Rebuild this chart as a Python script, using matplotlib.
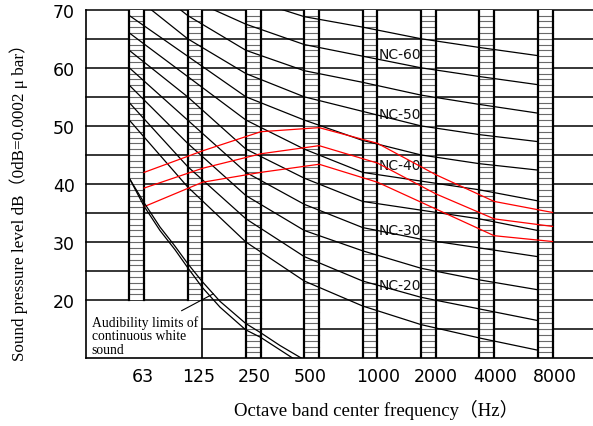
import numpy as np
import matplotlib
matplotlib.use("Agg")
import matplotlib.pyplot as plt

# octave bands
bands = ['63', '125', '250', '500', '1000', '2000', '4000', '8000']

# NC curves, values read at each band (dB)
nc_15 = [51, 39.5, 30, 23.3, 19, 15.8, 13.5, 11.4]
nc_20 = [54, 43, 34, 27.5, 23.3, 20.5, 18.5, 16.5]
nc_25 = [57, 47, 38, 32, 28.5, 25.5, 23.5, 21.8]
nc_30 = [60, 51, 42, 36.5, 32.5, 30.5, 29, 27.5]
nc_35 = [63, 55, 46, 41, 37, 35.5, 34, 32]
nc_40 = [66, 58.5, 51, 46, 42, 40.5, 39, 37.1]
nc_45 = [69, 62, 55, 51, 47.5, 45, 43.5, 42.4]
nc_50 = [73, 65, 59, 55, 52.5, 50, 48.5, 47.3]
nc_55 = [77, 69, 63, 59.5, 57.5, 55.3, 53.7, 52.2]
nc_60 = [80, 72, 67.5, 64, 62, 60, 58.5, 57.1]
nc_65 = [83, 76, 72, 68.8, 67, 65, 63.5, 62.1]
nc_curves = [nc_15, nc_20, nc_25, nc_30, nc_35, nc_40, nc_45, nc_50, nc_55, nc_60, nc_65]

# measured spectra (red)
meas_1 = [42.0, 45.7, 49.0, 49.7, 47.0, 41.6, 37.0, 35.1]
meas_2 = [39.3, 42.7, 45.2, 46.6, 43.6, 38.3, 34.0, 32.7]
meas_3 = [36.1, 40.3, 42.0, 43.4, 40.3, 35.7, 31.1, 30.1]

# audibility limits of continuous white sound (x in band units)
aud_x1 = [0, 0.252, 0.526, 0.783, 1.001, 1.251, 1.555, 1.995, 2.252, 2.583, 2.955]
aud_y1 = [41.0, 36.8, 32.6, 29.3, 26.3, 23.2, 19.8, 16.0, 14.4, 12.2, 10.0]
aud_x2 = [0, 0.252, 0.526, 0.783, 1.001, 1.251, 1.555, 1.995, 2.252, 2.806]
aud_y2 = [41.0, 36.2, 32.0, 28.7, 25.6, 22.2, 18.8, 14.9, 13.6, 10.0]

# labelled curves
label_names = ['NC-60', 'NC-50', 'NC-40', 'NC-30', 'NC-20']
label_y = [62.4, 52.0, 43.2, 32.1, 22.6]

bar_bottom = [20, 20, 10, 10, 10, 10, 10, 10]

bw = 0.254
x = np.arange(len(bands))
xl, xr = -0.742, 7.948

fig = plt.figure(figsize=(5.93, 4.27), dpi=100)
ax = fig.add_axes([86/593, 67.7/427, 507/593, 348.6/427])
ax.set_xlim(xl, xr)
ax.set_ylim(10, 70)
for s in ['right', 'top']:
    ax.spines[s].set_visible(False)
ax.spines['left'].set_linewidth(1.2)
ax.spines['bottom'].set_linewidth(1.2)

# horizontal grid
for g in range(15, 75, 5):
    x0 = 1 + bw if g == 15 else xl
    ax.plot([x0, xr], [g, g], color='black', lw=1.1, zorder=1, clip_on=False)
ax.plot([1 + bw, 1 + bw], [10, 20], color='black', lw=1.2, zorder=1)

# labels of NC curves
for name, yy in zip(label_names, label_y):
    ax.text(4.28, yy, name, fontsize=10, va='center', ha='left', zorder=1,
            family='DejaVu Sans', color='#111111')

# hatched band columns
for i in range(len(bands)):
    ax.fill_between([i, i + bw], bar_bottom[i], 70, color='white', zorder=2, lw=0)
    for h in range(bar_bottom[i] + 1, 70):
        ax.plot([i, i + bw], [h, h], color='#6a6a6a', lw=0.8, zorder=2)
    ax.plot([i, i], [bar_bottom[i], 70], color='black', lw=1.6, zorder=2)
    ax.plot([i + bw, i + bw], [bar_bottom[i], 70], color='black', lw=1.6, zorder=2)

# NC curves
for c in nc_curves:
    ax.plot(x, c, color='black', lw=0.9, zorder=3)

# measured spectra
for m in [meas_1, meas_2, meas_3]:
    ax.plot(x + bw, m, color='red', lw=0.9, zorder=3)

ax.plot(aud_x1, aud_y1, color='black', lw=0.9, zorder=3)
ax.plot(aud_x2, aud_y2, color='black', lw=0.9, zorder=3)

# legend text
ax.text(-0.644, 17.5, 'Audibility limits of\ncontinuous white\nsound', fontsize=9.8,
        family='Liberation Serif', va='top', ha='left', linespacing=1.08, zorder=4)
ax.plot([0.898, 1.44], [18.2, 21.1], color='black', lw=0.8, zorder=4)

# ticks
label_shift = [0.23, 0.19, 0.14, 0.10, 0.26, 0.245, 0.27, 0.29]
ax.set_xticks(x + np.array(label_shift))
ax.set_xticklabels(bands, fontsize=12.5)
ax.set_yticks([20, 30, 40, 50, 60, 70])
ax.set_yticklabels(['20', '30', '40', '50', '60', '70'], fontsize=12.5)
ax.tick_params(axis='both', length=0)
ax.tick_params(axis='x', pad=6)
ax.tick_params(axis='y', pad=8)

fig.text(0.032, 0.535, 'Sound pressure level dB（0dB=0.0002 μ bar）', rotation=90,
         ha='center', va='center', fontsize=12.3,
         family=['Liberation Serif', 'Noto Sans CJK SC'])
fig.text(0.634, 0.040, 'Octave band center frequency（Hz）', ha='center', va='center',
         fontsize=13.5, family=['Liberation Serif', 'Noto Sans CJK SC'])

fig.savefig('out.png', dpi=100)
